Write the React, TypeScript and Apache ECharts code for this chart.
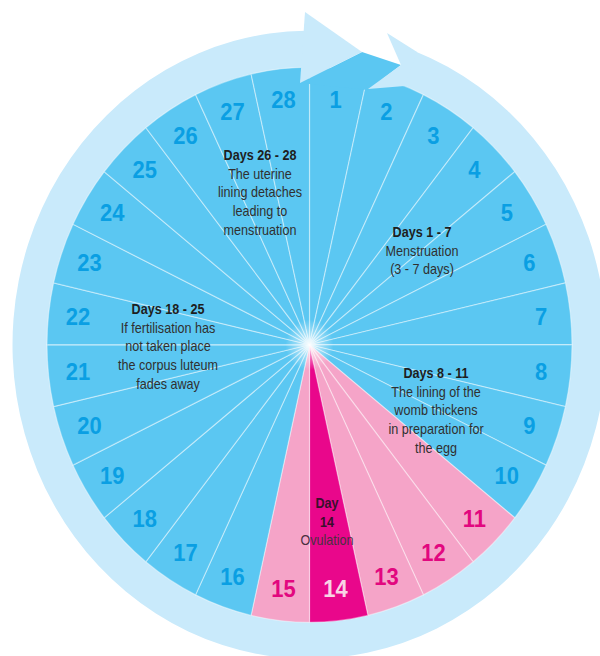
import React, { useEffect, useRef } from "react";
import * as echarts from "echarts";

// ---- data ----
const dayLabels = ["1","2","3","4","5","6","7","8","9","10","11","12","13","14","15","16","17","18","19","20","21","22","23","24","25","26","27","28"];
const dayShares = [1,1,1,1,1,1,1,1,1,1,1,1,1,1,1,1,1,1,1,1,1,1,1,1,1,1,1,1];
const fertileDays = ["11", "12", "13", "15"];
const ovulationDays = ["14"];

const noteTitles = ["Days 26 - 28", "Days 1 - 7", "Days 8 - 11", "Days 18 - 25"];
const noteBodies = [
  ["The uterine", "lining detaches", "leading to", "menstruation"],
  ["Menstruation", "(3 - 7 days)"],
  ["The lining of the", "womb thickens", "in preparation for", "the egg"],
  ["If fertilisation has", "not taken place", "the corpus luteum", "fades away"],
];
const ovulationTitle = ["Day", "14"];
const ovulationBody = ["Ovulation"];

// ---- layout / style (screen coordinates are divided by S) ----
const S = 1.0575;
const CX = 309.5;
const CY = 326;
const R = 262.5;
const RO = 297;
const notePos = [
  { x: 260, y: 155 },
  { x: 422, y: 232 },
  { x: 436, y: 373 },
  { x: 168, y: 309 },
];
const ovuPos = { x: 327, y: 503 };
const LINE = 18.8;
const TEXT_SX = 0.9;

const BLUE = "#5bc7f2";
const RING = "#c9eafb";
const PINK = "#f5a4c8";
const MAGENTA = "#e9078b";
const NUM_BLUE = "#0a9fe3";
const NUM_PINK = "#e2077f";
const FONT = "'Liberation Sans', Arial, Helvetica, sans-serif";

const pt = (x: number, y: number) => [x, y / S];

export default function App() {
  const ref = useRef<HTMLDivElement>(null);

  useEffect(() => {
    if (!ref.current) return;
    const chart = echarts.init(ref.current, undefined, { renderer: "svg" });

    const sliceColor = (d: string) =>
      ovulationDays.includes(d) ? MAGENTA : fertileDays.includes(d) ? PINK : BLUE;
    const numColor = (d: string) =>
      ovulationDays.includes(d) ? "#f8d3e5" : fertileDays.includes(d) ? NUM_PINK : NUM_BLUE;

    const mkText = (t: string, x: number, y: number, bold: boolean, fill: string) => ({
      type: "text",
      z: 120,
      silent: true,
      x,
      y: y / S,
      scaleX: TEXT_SX,
      style: {
        text: t,
        x: 0,
        y: 0,
        align: "center",
        verticalAlign: "middle",
        textAlign: "center",
        textVerticalAlign: "middle",
        fill,
        font: `${bold ? "bold " : ""}14px ${FONT}`,
      },
    });

    const texts: any[] = [];
    notePos.forEach((p, i) => {
      const lines = [noteTitles[i], ...noteBodies[i]];
      lines.forEach((t, j) => {
        texts.push(mkText(t, p.x, p.y + j * LINE, j === 0, j === 0 ? "#1e1e1e" : "#303030"));
      });
    });
    [...ovulationTitle, ...ovulationBody].forEach((t, j) => {
      const bold = j < ovulationTitle.length;
      texts.push(mkText(t, ovuPos.x, ovuPos.y + j * LINE, bold, bold ? "#3a0f2c" : "#4a3040"));
    });

    const a0 = -1.2;
    const B = [CX + RO * Math.cos(a0), CY + RO * Math.sin(a0)];
    const C = [CX + R * Math.cos(a0), CY + R * Math.sin(a0)];

    chart.setOption({
      animation: false,
      backgroundColor: "#ffffff",
      graphic: [
        {
          type: "sector",
          z: 0,
          silent: true,
          shape: { cx: CX, cy: CY, r: RO, r0: R - 3, startAngle: a0 - 0.01, endAngle: 4.70, clockwise: true },
          style: { fill: RING },
        },
        {
          type: "polygon",
          z: 100,
          silent: true,
          shape: { points: [pt(300, 83), pt(362, 52), pt(401, 65), pt(368, 90)] },
          style: { fill: BLUE },
        },
        {
          type: "polygon",
          z: 101,
          silent: true,
          shape: { points: [pt(387, 33), B, C, pt(368, 89), pt(401, 65)] },
          style: { fill: RING },
        },
        {
          type: "polygon",
          z: 101,
          silent: true,
          shape: { points: [pt(305, 12), pt(362, 52), pt(300, 83)] },
          style: { fill: RING },
        },
        {
          type: "circle",
          z: 110,
          silent: true,
          shape: { cx: CX, cy: CY, r: 24 },
          style: {
            fill: {
              type: "radial",
              x: 0.5,
              y: 0.5,
              r: 0.5,
              colorStops: [
                { offset: 0, color: "rgba(255,255,255,0.8)" },
                { offset: 1, color: "rgba(255,255,255,0)" },
              ],
            },
          },
        },
        ...texts,
      ],
      series: [
        {
          type: "pie",
          z: 2,
          silent: true,
          center: [CX, CY],
          radius: [0, R],
          startAngle: 90,
          clockwise: true,
          label: { show: false },
          labelLine: { show: false },
          emphasis: { disabled: true },
          itemStyle: { borderColor: "rgba(255,255,255,0.4)", borderWidth: 1.2 },
          data: dayLabels.map((d, i) => ({
            name: d,
            value: dayShares[i],
            itemStyle: { color: sliceColor(d) },
          })),
        },
        {
          type: "pie",
          z: 5,
          silent: true,
          center: [CX, CY],
          radius: [200, 260],
          startAngle: 90,
          clockwise: true,
          emphasis: { disabled: true },
          itemStyle: { color: "rgba(0,0,0,0)", borderWidth: 0 },
          labelLine: { show: false },
          label: {
            show: true,
            position: "inside",
            rotate: 0,
            formatter: "{b}",
            fontSize: 22,
            fontWeight: "bold",
            fontFamily: FONT,
          },
          data: dayLabels.map((d, i) => ({
            name: d,
            value: dayShares[i],
            label: { color: numColor(d) },
          })),
        },
      ],
    });

    return () => chart.dispose();
  }, []);

  return (
    <div
      ref={ref}
      style={{
        position: "fixed",
        left: 0,
        top: 0,
        width: 600,
        height: 621,
        transform: `scaleY(${S})`,
        transformOrigin: "0 0",
      }}
    />
  );
}
